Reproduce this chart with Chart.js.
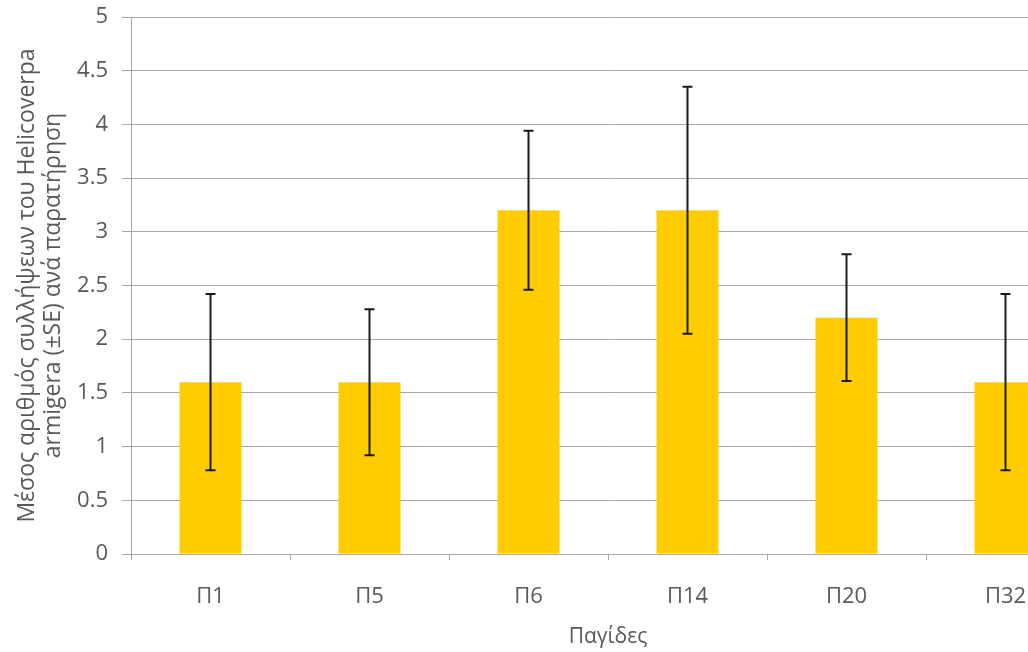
<!DOCTYPE html>
<html>
<head>
<meta charset="utf-8">
<script src="https://cdn.jsdelivr.net/npm/chart.js@4"></script>
<style>
  html, body { margin: 0; padding: 0; background: #fff; overflow: hidden; }
  #wrap { position: relative; width: 1086px; height: 652px; }
</style>
</head>
<body>
<div id="wrap"><canvas id="chart"></canvas></div>
<script>
const categories = ["Π1", "Π5", "Π6", "Π14", "Π20", "Π32"];
const means = [1.6, 1.6, 3.2, 3.2, 2.2, 1.6];
const se = [0.82, 0.68, 0.74, 1.15, 0.59, 0.82];
const yTitle = ["Μέσος αριθμός συλλήψεων του Helicoverpa", "armigera (±SE) ανά παρατήρηση"];
const xTitle = "Παγίδες";

const textGray = "#595959";
const gridGray = "#a6a6a6";

// error bars drawn on top of the bars, positioned through the y scale
const errorBars = {
  id: "errorBars",
  afterDatasetsDraw(chart) {
    const { ctx, scales } = chart;
    const meta = chart.getDatasetMeta(0);
    ctx.save();
    ctx.strokeStyle = "#1a1a1a";
    ctx.lineWidth = 2;
    meta.data.forEach((bar, i) => {
      const x = bar.x;
      const yHi = scales.y.getPixelForValue(means[i] + se[i]);
      const yLo = scales.y.getPixelForValue(means[i] - se[i]);
      ctx.beginPath();
      ctx.moveTo(x, yHi);
      ctx.lineTo(x, yLo);
      ctx.moveTo(x - 5, yHi);
      ctx.lineTo(x + 5, yHi);
      ctx.moveTo(x - 5, yLo);
      ctx.lineTo(x + 5, yLo);
      ctx.stroke();
    });
    ctx.restore();
  },
};

new Chart(document.getElementById("chart"), {
  type: "bar",
  data: {
    labels: categories,
    datasets: [{
      data: means,
      backgroundColor: "#ffcc00",
      borderWidth: 0,
      barPercentage: 1,
      categoryPercentage: 0.39,
    }],
  },
  options: {
    responsive: true,
    maintainAspectRatio: false,
    animation: false,
    layout: { padding: { top: 17, right: 1, bottom: 0, left: 0 } },
    plugins: { legend: { display: false }, tooltip: { enabled: false } },
    scales: {
      x: {
        afterFit: (s) => { s.height = 98; },
        grid: { drawOnChartArea: false, drawTicks: true, tickLength: 6, color: gridGray, offset: true },
        border: { color: gridGray, width: 1 },
        ticks: { color: textGray, font: { family: "Open Sans", size: 22 }, padding: 24 },
        title: {
          display: true,
          text: xTitle,
          color: textGray,
          font: { family: "Open Sans", size: 21 },
          padding: { top: 0, bottom: 2 },
        },
      },
      y: {
        min: 0,
        max: 5,
        afterFit: (s) => {
          s.width = 131;
          s.paddingTop = 0;
          s.paddingBottom = 0;
        },
        ticks: {
          stepSize: 0.5,
          color: textGray,
          font: { family: "Open Sans", size: 22 },
          padding: 14,
          callback: (v) => String(v),
        },
        grid: { color: gridGray, tickLength: 9, lineWidth: 1 },
        border: { color: gridGray, width: 1 },
        title: {
          display: true,
          text: yTitle,
          color: textGray,
          font: { family: "Open Sans", size: 23, lineHeight: 1.15 },
          padding: { top: 14, bottom: 0 },
        },
      },
    },
  },
  plugins: [errorBars],
});
</script>
</body>
</html>
